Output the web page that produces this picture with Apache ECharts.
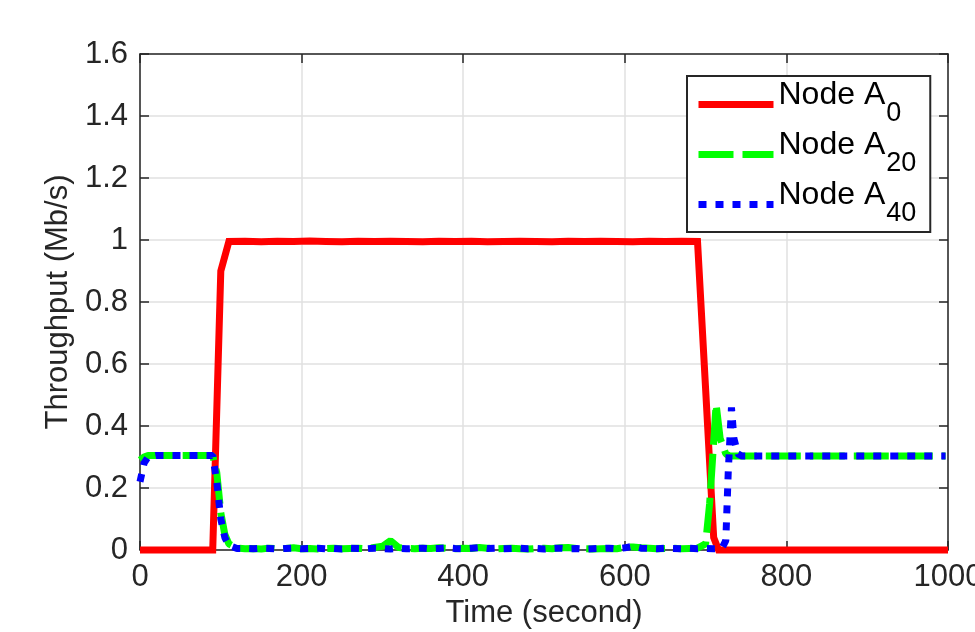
<!DOCTYPE html>
<html>
<head>
<meta charset="utf-8">
<script src="https://cdn.jsdelivr.net/npm/echarts@6/dist/echarts.min.js"></script>
<style>
  html, body { margin: 0; padding: 0; background: #fff; }
  #chart { width: 975px; height: 632px; }
</style>
</head>
<body>
<div id="chart"></div>
<script>
// ---- data ----
const seriesNames = ['Node A0', 'Node A20', 'Node A40'];
const subscripts = ['0', '20', '40'];
const xTicks = [0, 200, 400, 600, 800, 1000];
const yTicks = [0, 0.2, 0.4, 0.6, 0.8, 1, 1.2, 1.4, 1.6];

const redTime = [0, 90, 100, 110, 130, 150, 170, 190, 210, 230, 250, 270, 290, 310, 330, 350, 370, 390,
  410, 430, 450, 470, 490, 510, 530, 550, 570, 590, 610, 630, 650, 670, 690, 700, 710, 716, 1000];
const redVal = [0, 0, 0.9, 0.995, 0.996, 0.994, 0.996, 0.995, 0.997, 0.995, 0.994, 0.996, 0.995, 0.996,
  0.995, 0.994, 0.996, 0.995, 0.996, 0.994, 0.995, 0.996, 0.995, 0.994, 0.996, 0.995, 0.996, 0.995,
  0.994, 0.996, 0.995, 0.996, 0.995, 0.52, 0.04, 0, 0];

const greenTime = [0, 5, 10, 20, 30, 40, 50, 60, 70, 80, 90, 95, 100, 105, 110, 120,
  130, 140, 150, 160, 170, 180, 190, 200, 210, 220, 230, 240, 250, 260, 270, 280, 290, 300, 310, 320,
  330, 340, 350, 360, 370, 380, 390, 400, 410, 420, 430, 440, 450, 460, 470, 480, 490, 500, 510, 520,
  530, 540, 550, 560, 570, 580, 590, 600, 610, 620, 630, 640, 650, 660, 670, 680, 690,
  700, 705, 710, 713, 718, 725, 730, 800, 900, 997];
const greenVal = [0.29, 0.3, 0.305, 0.305, 0.305, 0.305, 0.305, 0.305, 0.305, 0.305, 0.305, 0.25, 0.12, 0.05, 0.02, 0.006,
  0.004, 0.005, 0.003, 0.006, 0.004, 0.005, 0.007, 0.004, 0.005, 0.003, 0.005, 0.006, 0.004, 0.005, 0.006, 0.004, 0.008, 0.012, 0.03, 0.008,
  0.005, 0.004, 0.006, 0.005, 0.007, 0.005, 0.004, 0.006, 0.005, 0.008, 0.006, 0.004, 0.005, 0.006, 0.004, 0.003, 0.005, 0.006, 0.004, 0.007,
  0.008, 0.005, 0.004, 0.003, 0.004, 0.005, 0.004, 0.008, 0.01, 0.007, 0.006, 0.004, 0.005, 0.006, 0.004, 0.005, 0.006,
  0.02, 0.15, 0.35, 0.47, 0.36, 0.31, 0.303, 0.303, 0.303, 0.303];

const blueTime = [0, 5, 10, 20, 30, 40, 50, 60, 70, 80, 90, 95, 100, 105, 110, 120,
  130, 140, 150, 160, 170, 180, 190, 200, 210, 220, 230, 240, 250, 260, 270, 280, 290, 300, 310, 320,
  330, 340, 350, 360, 370, 380, 390, 400, 410, 420, 430, 440, 450, 460, 470, 480, 490, 500, 510, 520,
  530, 540, 550, 560, 570, 580, 590, 600, 610, 620, 630, 640, 650, 660, 670, 680, 690, 700, 710,
  720, 725, 728, 732, 735, 740, 745, 800, 900, 997];
const blueVal = [0.22, 0.28, 0.3, 0.305, 0.305, 0.305, 0.305, 0.305, 0.305, 0.305, 0.305, 0.22, 0.1, 0.04, 0.015, 0.005,
  0.005, 0.004, 0.006, 0.005, 0.003, 0.005, 0.006, 0.004, 0.005, 0.006, 0.004, 0.005, 0.003, 0.006, 0.005, 0.004, 0.006, 0.005, 0.003, 0.006,
  0.004, 0.005, 0.006, 0.004, 0.005, 0.007, 0.005, 0.004, 0.006, 0.008, 0.005, 0.006, 0.004, 0.005, 0.006, 0.004, 0.005, 0.003, 0.005, 0.006,
  0.004, 0.005, 0.003, 0.004, 0.005, 0.006, 0.004, 0.007, 0.012, 0.006, 0.005, 0.004, 0.006, 0.005, 0.004, 0.006, 0.004, 0.005, 0.004,
  0.005, 0.03, 0.25, 0.46, 0.36, 0.31, 0.303, 0.303, 0.303, 0.303];

const colors = ['#ff0000', '#00ff00', '#0000ff'];
const dashTypes = ['solid', [35, 9], [8, 9]];

function pairs(t, v) { return t.map((x, i) => [x, v[i]]); }

const FONT = 'Liberation Sans, Arial, Helvetica, sans-serif';
const TXT = '#262626';

const chart = echarts.init(document.getElementById('chart'), null, { renderer: 'canvas' });

const axisLineStyle = { color: TXT, width: 1.5 };

const option = {
  animation: false,
  backgroundColor: '#fff',
  grid: { left: 140, right: 27, top: 54, bottom: 82, containLabel: false, outerBoundsMode: 'none' },
  legend: {
    orient: 'vertical',
    left: 687,
    top: 76,
    padding: [3, 14, 2, 8],
    itemWidth: 75,
    itemHeight: 14,
    itemGap: -1,
    backgroundColor: '#fff',
    borderColor: TXT,
    borderWidth: 2,
    borderRadius: 0,
    itemStyle: { opacity: 0 },
    lineStyle: { width: 7, type: 'inherit', cap: 'butt' },
    data: seriesNames.map((n, i) => ({
      name: n,
      itemStyle: { opacity: 0 },
      lineStyle: { width: 7, type: dashTypes[i], color: colors[i], cap: 'butt' }
    })),
    formatter: function (name) {
      const i = seriesNames.indexOf(name);
      return '{m|Node A}{s|' + subscripts[i] + '}';
    },
    textStyle: {
      color: '#000',
      fontFamily: FONT,
      rich: {
        m: { fontSize: 32, fontFamily: FONT, color: '#000', lineHeight: 24, padding: [0, 0, 19, 0] },
        s: { fontSize: 27, fontFamily: FONT, color: '#000', lineHeight: 24, padding: [19, 0, 0, 1] }
      }
    }
  },
  xAxis: [
    {
      type: 'value', min: xTicks[0], max: xTicks[xTicks.length - 1], interval: 200,
      name: 'Time (second)', nameLocation: 'middle', nameGap: 40,
      nameTextStyle: { fontSize: 31, fontFamily: FONT, color: TXT },
      axisLine: { show: true, onZero: false, lineStyle: axisLineStyle },
      axisTick: { show: true, inside: true, length: 9, lineStyle: axisLineStyle },
      axisLabel: { margin: 12, fontSize: 31, fontFamily: FONT, color: TXT, showMaxLabel: true, showMinLabel: true,
        formatter: function (v) { return String(v); } },
      splitLine: { show: true, lineStyle: { color: '#e0e0e0', width: 1.5 } }
    },
    {
      type: 'value', min: xTicks[0], max: xTicks[xTicks.length - 1], interval: 200, position: 'top',
      axisLine: { show: true, onZero: false, lineStyle: axisLineStyle },
      axisTick: { show: true, inside: true, length: 9, lineStyle: axisLineStyle },
      axisLabel: { show: false },
      splitLine: { show: false }
    }
  ],
  yAxis: [
    {
      type: 'value', min: yTicks[0], max: yTicks[yTicks.length - 1], interval: 0.2,
      name: 'Throughput (Mb/s)', nameLocation: 'middle', nameGap: 64, nameRotate: 90,
      nameTextStyle: { fontSize: 31, fontFamily: FONT, color: TXT },
      axisLine: { show: true, onZero: false, lineStyle: axisLineStyle },
      axisTick: { show: true, inside: true, length: 9, lineStyle: axisLineStyle },
      axisLabel: { margin: 12, fontSize: 31, fontFamily: FONT, color: TXT,
        formatter: function (v) { return String(Math.round(v * 10) / 10); } },
      splitLine: { show: true, lineStyle: { color: '#e0e0e0', width: 1.5 } }
    },
    {
      type: 'value', min: yTicks[0], max: yTicks[yTicks.length - 1], interval: 0.2, position: 'right',
      axisLine: { show: true, onZero: false, lineStyle: axisLineStyle },
      axisTick: { show: true, inside: true, length: 9, lineStyle: axisLineStyle },
      axisLabel: { show: false },
      splitLine: { show: false }
    }
  ],
  series: [
    {
      name: seriesNames[0], type: 'line', data: pairs(redTime, redVal),
      showSymbol: false, symbol: 'none', clip: false, z: 3,
      lineStyle: { color: colors[0], width: 7, type: dashTypes[0], join: 'miter' },
      itemStyle: { color: colors[0] }
    },
    {
      name: seriesNames[1], type: 'line', data: pairs(greenTime, greenVal),
      showSymbol: false, symbol: 'none', clip: false, z: 4,
      lineStyle: { color: colors[1], width: 7, type: dashTypes[1], cap: 'butt' },
      itemStyle: { color: colors[1] }
    },
    {
      name: seriesNames[2], type: 'line', data: pairs(blueTime, blueVal),
      showSymbol: false, symbol: 'none', clip: false, z: 5,
      lineStyle: { color: colors[2], width: 7, type: dashTypes[2], cap: 'butt' },
      itemStyle: { color: colors[2] }
    }
  ]
};

chart.setOption(option);
</script>
</body>
</html>
